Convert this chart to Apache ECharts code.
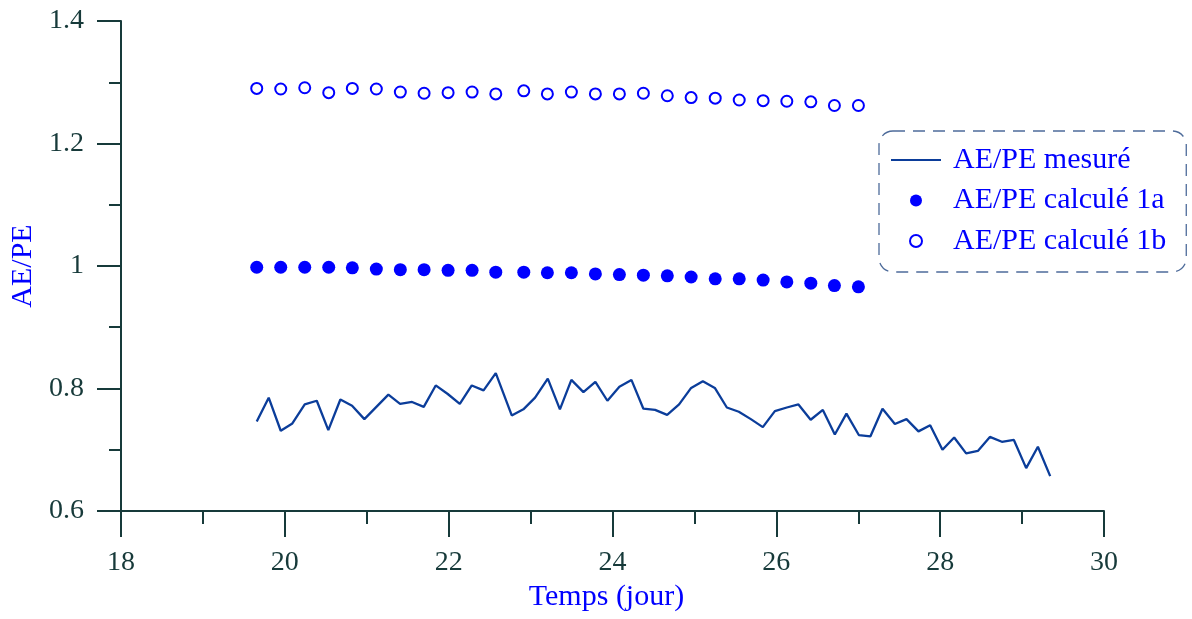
<!DOCTYPE html>
<html>
<head>
<meta charset="utf-8">
<script src="https://cdn.jsdelivr.net/npm/echarts@6/dist/echarts.min.js"></script>
<style>html,body{margin:0;padding:0;background:#fff}#c{width:1192px;height:619px}</style>
</head>
<body>
<div id="c"></div>
<script>
var timeMeasured = [19.657,19.803,19.950,20.092,20.243,20.390,20.531,20.678,20.821,20.971,21.264,21.407,21.553,21.696,21.842,21.989,22.136,22.282,22.426,22.575,22.770,22.912,23.055,23.210,23.358,23.498,23.645,23.791,23.938,24.084,24.231,24.377,24.520,24.667,24.813,24.960,25.103,25.249,25.396,25.542,25.689,25.835,25.982,26.128,26.270,26.419,26.568,26.714,26.856,27.007,27.149,27.296,27.447,27.589,27.735,27.878,28.028,28.171,28.317,28.460,28.607,28.753,28.900,29.050,29.193,29.343];
var aeMeasured = [0.746,0.785,0.731,0.743,0.774,0.780,0.732,0.782,0.772,0.750,0.790,0.775,0.778,0.770,0.805,0.791,0.775,0.805,0.797,0.825,0.756,0.766,0.785,0.816,0.766,0.814,0.794,0.811,0.780,0.803,0.814,0.767,0.765,0.757,0.774,0.801,0.812,0.801,0.769,0.762,0.750,0.737,0.763,0.769,0.774,0.749,0.765,0.725,0.759,0.724,0.722,0.767,0.742,0.750,0.730,0.740,0.700,0.720,0.694,0.698,0.721,0.713,0.716,0.670,0.705,0.657];
var timeCalc = [19.657,19.950,20.243,20.536,20.824,21.117,21.410,21.700,21.993,22.286,22.575,22.917,23.205,23.498,23.791,24.084,24.377,24.669,24.960,25.254,25.547,25.839,26.128,26.421,26.709,27.002];
var ae1a = [0.998,0.998,0.998,0.998,0.997,0.995,0.994,0.994,0.993,0.993,0.990,0.990,0.989,0.989,0.987,0.986,0.985,0.984,0.982,0.979,0.979,0.977,0.974,0.972,0.968,0.966];
var ae1b = [1.290,1.289,1.291,1.283,1.290,1.289,1.284,1.282,1.283,1.284,1.281,1.286,1.281,1.284,1.281,1.281,1.282,1.278,1.275,1.274,1.271,1.270,1.269,1.268,1.262,1.262];
var xTicks = [18,20,22,24,26,28,30];
var yTicks = [0.6,0.8,1,1.2,1.4];
var seriesNames = ['AE/PE mesuré','AE/PE calculé 1a','AE/PE calculé 1b'];

function pairs(xs, ys){ return xs.map(function(x,i){ return [x, ys[i]]; }); }

var axisColor = '#173a3a';
var serif = "'Liberation Serif','Times New Roman',serif";
var chart = echarts.init(document.getElementById('c'), null, {renderer:'canvas'});
chart.setOption({
  backgroundColor: '#ffffff',
  animation: false,
  grid: {left: 121, right: 88, top: 21, bottom: 108, containLabel: false},
  legend: {
    orient: 'vertical',
    left: 879, top: 131,
    padding: [14, 20, 16, 12],
    itemWidth: 50, itemHeight: 12, itemGap: 10.5,
    borderColor: '#4d6b9a', borderWidth: 1.3, borderType: [12, 8], borderRadius: 14,
    textStyle: {fontFamily: serif, fontSize: 30, color: '#0000ff', lineHeight: 30, padding: [0,0,0,7]},
    data: [
      {name: seriesNames[0], icon: 'path://M0,0H50V2H0Z'},
      {name: seriesNames[1], icon: 'circle'},
      {name: seriesNames[2], icon: 'emptyCircle'}
    ]
  },
  xAxis: {
    type: 'value', min: xTicks[0], max: xTicks[xTicks.length-1], interval: 2,
    name: 'Temps (jour)', nameLocation: 'middle', nameGap: 70,
    nameTextStyle: {fontFamily: serif, fontSize: 30, color: '#0000ff', padding: [0, 12, 0, 0]},
    axisLine: {onZero: false, lineStyle: {color: axisColor, width: 2}},
    axisTick: {show: true, inside: false, length: 26, lineStyle: {color: axisColor, width: 2}},
    minorTick: {show: true, splitNumber: 2, length: 13, lineStyle: {color: axisColor, width: 2}},
    axisLabel: {fontFamily: serif, fontSize: 28, color: axisColor, margin: 38},
    splitLine: {show: false}, minorSplitLine: {show: false}
  },
  yAxis: {
    type: 'value', min: yTicks[0], max: yTicks[yTicks.length-1], interval: 0.2,
    name: 'AE/PE', nameLocation: 'middle', nameGap: 72,
    nameTextStyle: {fontFamily: serif, fontSize: 30, color: '#0000ff'},
    axisLine: {show: true, onZero: false, lineStyle: {color: axisColor, width: 2}},
    axisTick: {show: true, inside: false, length: 24, lineStyle: {color: axisColor, width: 2}},
    minorTick: {show: true, splitNumber: 2, length: 12, lineStyle: {color: axisColor, width: 2}},
    axisLabel: {fontFamily: serif, fontSize: 28, color: axisColor, margin: 37},
    splitLine: {show: false}, minorSplitLine: {show: false}
  },
  series: [
    {
      name: seriesNames[0], type: 'line', data: pairs(timeMeasured, aeMeasured),
      symbol: 'none', color: '#0b3d9a', lineStyle: {color: '#0b3d9a', width: 2.3}, z: 2
    },
    {
      name: seriesNames[1], type: 'scatter', data: pairs(timeCalc, ae1a),
      symbol: 'circle', symbolSize: 13, itemStyle: {color: '#0000ff', opacity: 1}, z: 3
    },
    {
      name: seriesNames[2], type: 'scatter', data: pairs(timeCalc, ae1b),
      symbol: 'emptyCircle', symbolSize: 11, itemStyle: {color: '#0000ff', borderWidth: 1.7, opacity: 1}, z: 3
    }
  ]
});
</script>
</body>
</html>
